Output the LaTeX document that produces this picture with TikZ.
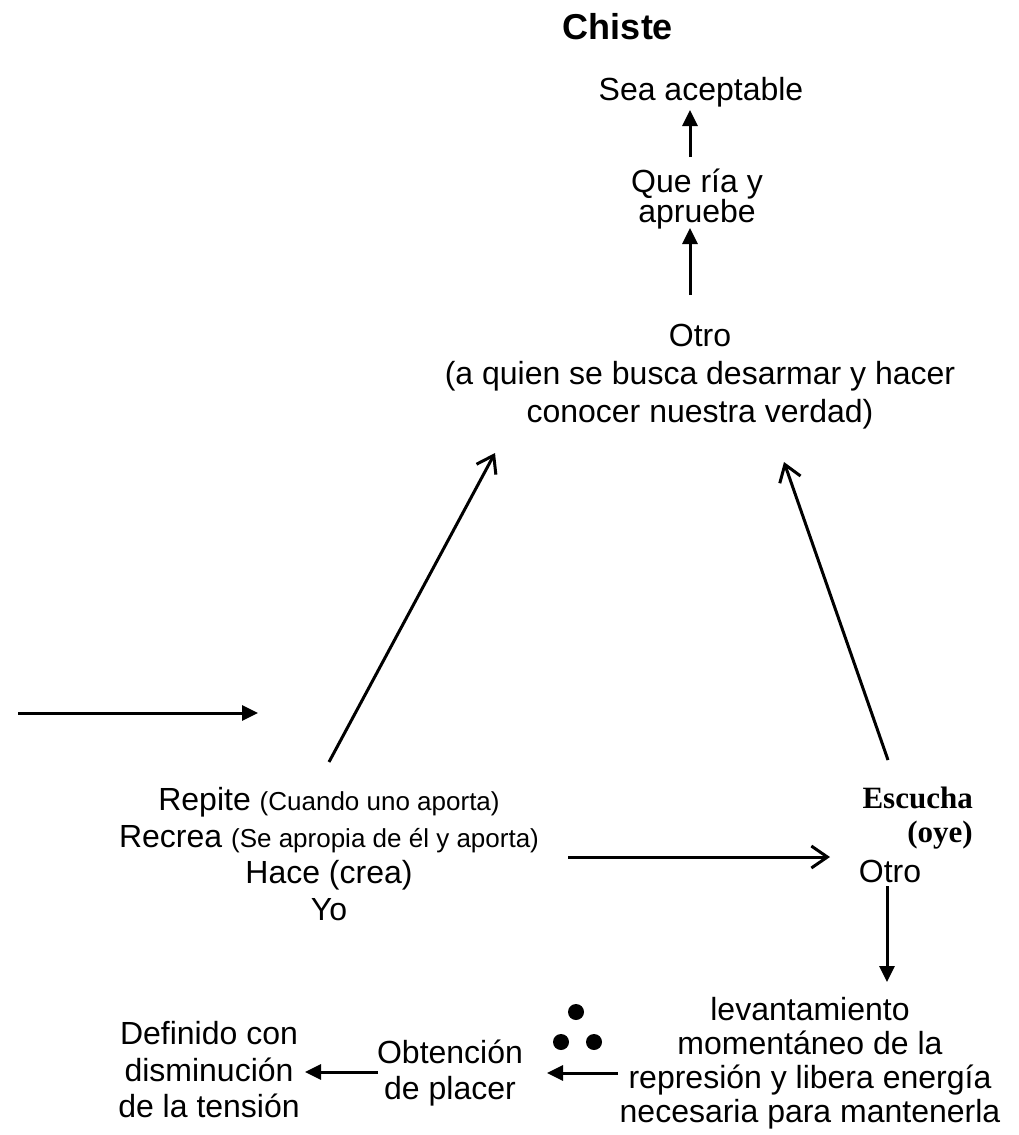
\documentclass[tikz,border=0pt]{standalone}
\usepackage{fontspec}
\setmainfont{Liberation Sans}
\newfontfamily\serifbold{Liberation Serif}
\usepackage{tikz}
\usetikzlibrary{positioning, calc, arrows.meta}

\begin{document}
\begin{tikzpicture}[
    x=1pt, y=-1pt,
    label/.style={align=center, inner sep=0pt, font=\fontsize{32}{36.5}\selectfont},
    title/.style={inner sep=0pt, font=\fontsize{36}{40}\selectfont\bfseries},
    point/.style={circle, fill=black, inner sep=0pt, minimum size=16pt},
    arrow/.style={-{Triangle[length=16pt, width=15pt]}, line width=3pt},
    openarrow/.style={-{Straight Barb[length=16pt, width=22pt, line width=3pt]}, line width=3pt}
]
    \useasboundingbox (0,0) rectangle (1019,1135);

    \node [title] (chiste) at (618,27) {Chiste};
    \node [label, anchor=base] (sea) at (701,100) {Sea aceptable};
    \node [label, font=\fontsize{32}{30}\selectfont] (que) at (697,199) {Que ría y\\apruebe};
    \node [label, font=\fontsize{32}{38}\selectfont] (otro) at (700,377) {Otro\\(a quien se busca desarmar y hacer\\conocer nuestra verdad)};

    \node [label] (yo) at (329,854) {Repite {\fontsize{26}{30}\selectfont(Cuando uno aporta)}\\Recrea {\fontsize{26}{30}\selectfont(Se apropia de él y aporta)}\\Hace (crea)\\Yo};
    \node [label, align=right, anchor=east, font=\fontsize{31}{34}\selectfont\serifbold\bfseries] (escucha) at (973,818) {Escucha\\(oye)};
    \node [label, anchor=base] (otro2) at (890,882) {Otro};

    \node [label, font=\fontsize{32}{34}\selectfont] (lev) at (810,1063) {levantamiento\\momentáneo de la\\represión y libera energía\\necesaria para mantenerla};
    \node [label] (obt) at (450,1073) {Obtención\\de placer};
    \node [label] (def) at (209,1070) {Definido con\\disminución\\de la tensión};

    \node [point] (dotA) at (576,1012) {};
    \node [point] (dotB) at (561,1042) {};
    \node [point] (dotC) at (594,1042) {};

    \coordinate (inA) at (18,713);
    \coordinate (inB) at (258,713);

    \draw [arrow] (inA) -- (inB);
    \draw [arrow] ($(que.center)+(-7,-42)$) -- ($(sea.base)+(-11,10)$);
    \draw [arrow] ($(otro.center)+(-10,-82)$) -- ($(que.center)+(-7,29)$);
    \draw [openarrow] ($(yo.center)+(0,-92)$) -- ($(otro.center)+(-205,76)$);
    \draw [openarrow] ($(escucha.east)+(-85,-58)$) -- ($(otro.center)+(84,85)$);
    \draw [openarrow] ($(yo.center)+(239,3)$) -- ($(otro2.base)+(-60,-25)$);
    \draw [arrow] ($(otro2.base)+(-3,4)$) -- ($(lev.center)+(77,-81)$);
    \draw [arrow] ($(lev.center)+(-192,10)$) -- ($(obt.center)+(97,0)$);
    \draw [arrow] ($(obt.center)+(-72,-1)$) -- ($(def.center)+(96,2)$);
\end{tikzpicture}
\end{document}
